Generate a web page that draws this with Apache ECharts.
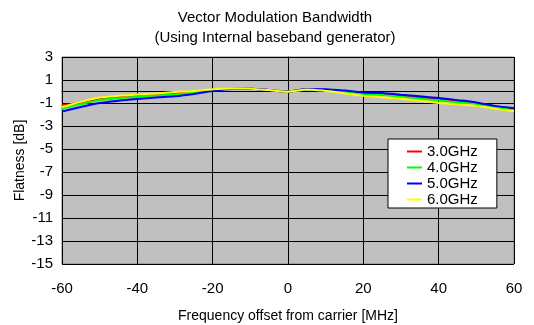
<!DOCTYPE html>
<html lang="en">

<head>
  <meta charset="UTF-8">
  <title>Vector Modulation Bandwidth</title>
  <script src="https://cdn.jsdelivr.net/npm/echarts@6.0.0/dist/echarts.min.js"></script>
</head>
<style>
  html, body {
    margin: 0;
    padding: 0;
    background: #fff;
  }

  .mychart {
    width: 534px;
    height: 325px;
  }
</style>

<body>
  <div class="mychart"></div>
</body>
<script>
  // frequency offset from carrier [MHz]
  const freqs = [-60, -55, -50, -45, -40, -35, -30, -25, -20, -15, -10, -5, 0, 5, 10, 15, 20, 25, 30, 35, 40, 45, 50, 55, 60];

  // flatness [dB]
  const flat3G = [-1.2, -0.95, -0.6, -0.45, -0.32, -0.22, -0.12, 0.0, 0.15, 0.24, 0.24, 0.12, 0.0, 0.2, 0.16, 0.03, -0.18, -0.25, -0.38, -0.5, -0.65, -0.8, -1.0, -1.3, -1.5];
  const flat4G = [-1.5, -1.1, -0.75, -0.58, -0.45, -0.35, -0.25, -0.08, 0.12, 0.24, 0.24, 0.12, -0.01, 0.2, 0.14, 0.0, -0.22, -0.3, -0.45, -0.62, -0.77, -0.95, -1.1, -1.4, -1.62];
  const flat5G = [-1.75, -1.35, -1.0, -0.8, -0.65, -0.52, -0.42, -0.22, 0.05, 0.22, 0.24, 0.12, 0.0, 0.22, 0.2, 0.08, -0.08, -0.12, -0.28, -0.42, -0.57, -0.75, -0.95, -1.25, -1.45];
  const flat6G = [-1.35, -0.9, -0.52, -0.38, -0.27, -0.17, -0.05, 0.05, 0.2, 0.27, 0.25, 0.12, -0.02, 0.18, 0.05, -0.15, -0.38, -0.5, -0.62, -0.8, -1.0, -1.1, -1.25, -1.5, -1.72];

  const seriesNames = ['3.0GHz', '4.0GHz', '5.0GHz', '6.0GHz'];
  const seriesColors = ['#ff0000', '#00ff00', '#0000ff', '#ffff00'];
  const seriesValues = [flat3G, flat4G, flat5G, flat6G];

  const font = 'Liberation Sans, Arial, sans-serif';

  let myChart = window.echarts.init(document.querySelector('.mychart'));

  myChart.setOption({
    animation: false,
    title: {
      text: 'Vector Modulation Bandwidth\n(Using Internal baseband generator)',
      left: 275,
      top: 8,
      padding: 0,
      textAlign: 'center',
      textStyle: {
        fontFamily: font,
        fontSize: 15,
        fontWeight: 'normal',
        color: '#000',
        lineHeight: 20,
      },
    },
    legend: {
      orient: 'vertical',
      left: 388,
      top: 139,
      padding: [5, 19, 1, 19],
      itemWidth: 15,
      itemHeight: 12,
      itemGap: 1,
      icon: 'path://M0,0h15v2h-15z', // plain line sample, no marker
      backgroundColor: '#fff',
      borderColor: '#000',
      borderWidth: 1,
      borderRadius: 0,
      textStyle: { fontFamily: font, fontSize: 15, color: '#000' },
      data: seriesNames,
    },
    grid: {
      left: 62,
      right: 20,
      top: 57,
      bottom: 61,
      outerBoundsMode: 'none',
      show: true,
      backgroundColor: '#c0c0c0',
      borderColor: '#808080',
      borderWidth: 1,
    },
    xAxis: {
      type: 'value',
      min: -60,
      max: 60,
      interval: 20,
      name: 'Frequency offset from carrier [MHz]',
      nameLocation: 'middle',
      nameGap: 45,
      nameMoveOverlap: false,
      nameTextStyle: { fontFamily: font, fontSize: 14, color: '#000' },
      axisLine: { lineStyle: { color: '#000', width: 1 } },
      axisTick: { show: true, length: 4, lineStyle: { color: '#000' } },
      axisLabel: { fontFamily: font, fontSize: 15, color: '#000', margin: 17 },
      splitLine: { lineStyle: { color: '#000', width: 1 } },
    },
    yAxis: {
      type: 'value',
      min: -15,
      max: 3,
      interval: 2,
      name: 'Flatness [dB]',
      nameLocation: 'middle',
      nameGap: 35,
      nameMoveOverlap: false,
      nameTextStyle: { fontFamily: font, fontSize: 14, color: '#000' },
      axisLine: { show: true, lineStyle: { color: '#000', width: 1 } },
      axisTick: { show: true, length: 4, lineStyle: { color: '#000' } },
      axisLabel: { fontFamily: font, fontSize: 15, color: '#000', margin: 9 },
      splitLine: { lineStyle: { color: '#000', width: 1 } },
    },
    series: seriesNames.map((name, i) => ({
      name: name,
      type: 'line',
      symbol: 'none',
      smooth: 0.3,
      color: seriesColors[i],
      lineStyle: { width: 2, color: seriesColors[i] },
      data: freqs.map((f, j) => [f, seriesValues[i][j]]),
    })),
  });
</script>

</html>
